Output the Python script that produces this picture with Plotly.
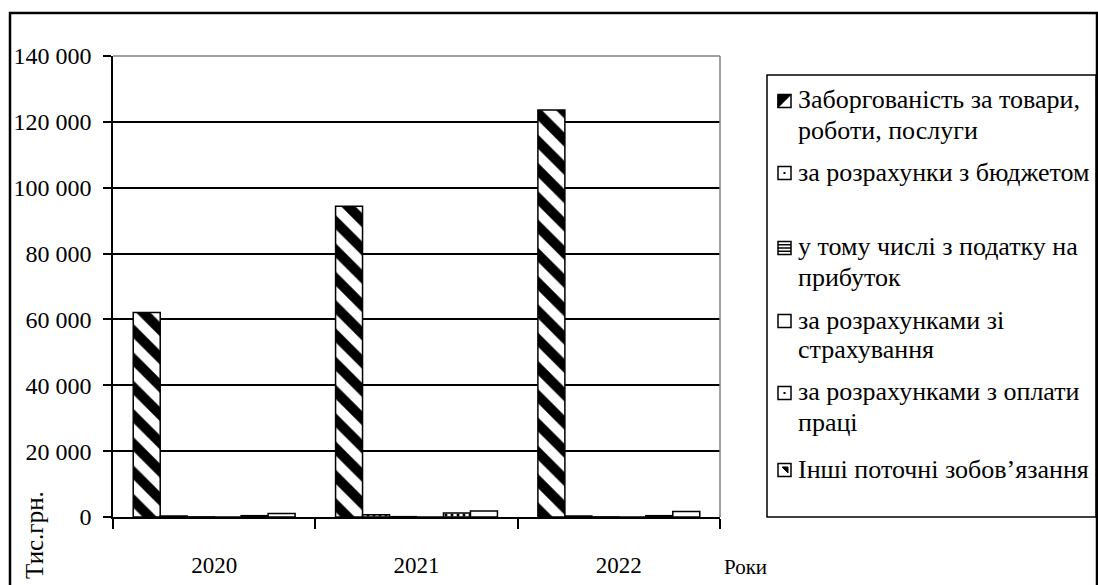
import plotly.graph_objects as go

years = ["2020", "2021", "2022"]
s_trade = [62100, 94400, 123600]
s_budget = [300, 700, 300]
s_profit_tax = [50, 100, 50]
s_insurance = [0, 0, 0]
s_wages = [400, 1200, 400]
s_other = [1100, 1800, 1700]

series_names = [
    "Заборгованість за товари, роботи, послуги",
    "за розрахунки з бюджетом",
    "у тому числі з податку на прибуток",
    "за розрахунками зі страхування",
    "за розрахунками з оплати праці",
    "Інші поточні зобов’язання",
]
series_values = [s_trade, s_budget, s_profit_tax, s_insurance, s_wages, s_other]
patterns = ["\\", ".", "-", "", ".", ""]

legend_lines = [
    ["Заборгованість за товари,", "роботи, послуги"],
    ["за розрахунки з бюджетом"],
    ["у тому числі з податку на", "прибуток"],
    ["за розрахунками зі", "страхування"],
    ["за розрахунками з оплати", "праці"],
    ["Інші поточні зобов’язання"],
]

W, H = 1098, 585
# plot area in window pixels
L, R, T, B = 113, 720, 56, 517
FONT = "Liberation Serif, Times New Roman, serif"


def px(x):
    return (x - L) / (R - L)


def py(y):
    return (B - y) / (B - T)


fig = go.Figure()
for name, vals, pat in zip(series_names, series_values, patterns):
    big = pat == "\\"
    fig.add_trace(go.Bar(
        x=years, y=vals, name=name,
        marker=dict(color="white",
                    line=dict(color="black", width=1.5),
                    pattern=dict(shape=pat, fgcolor="#000000", bgcolor="white", fgopacity=1,
                                 fillmode="replace",
                                 size=20 if big else 6,
                                 solidity=0.5 if big else 0.2)),
        showlegend=False,
    ))

shapes = []
annotations = []

# outer chart border
shapes.append(dict(type="rect", xref="paper", yref="paper",
                   x0=px(10), x1=px(1097), y0=py(13), y1=py(600),
                   line=dict(color="black", width=2.5), fillcolor="rgba(0,0,0,0)", layer="below"))
# plot area gray top / right border
shapes.append(dict(type="line", xref="paper", yref="paper", x0=0, x1=1, y0=1, y1=1,
                   line=dict(color="#808080", width=1.5)))
shapes.append(dict(type="line", xref="paper", yref="paper", x0=1, x1=1, y0=0, y1=1,
                   line=dict(color="#808080", width=1.5)))
# legend box
shapes.append(dict(type="rect", xref="paper", yref="paper",
                   x0=px(767), x1=px(1096), y0=py(75), y1=py(517),
                   line=dict(color="black", width=1.5), fillcolor="rgba(0,0,0,0)"))

line_ys = [[100, 130], [172], [247, 277], [320, 349], [392, 422], [469]]
for i, (lines, ys) in enumerate(zip(legend_lines, line_ys)):
    for txt, yy in zip(lines, ys):
        annotations.append(dict(text=txt, xref="paper", yref="paper",
                                x=px(796), y=py(yy), xanchor="left", yanchor="middle",
                                showarrow=False, font=dict(family=FONT, size=26, color="black")))
    cy = ys[0] + 1
    x0, x1, y0, y1 = px(778), px(791), py(cy + 6.5), py(cy - 6.5)
    shapes.append(dict(type="rect", xref="paper", yref="paper", x0=x0, x1=x1, y0=y0, y1=y1,
                       line=dict(color="black", width=1.5), fillcolor="white"))
    if i == 0:
        shapes.append(dict(type="path", xref="paper", yref="paper",
                           path=f"M {x0} {y0} L {x0} {y1} L {x1} {y1} Z",
                           fillcolor="black", line=dict(color="black", width=1)))
    elif i == 2:
        for k in range(1, 4):
            yk = py(cy - 6.5 + 3.25 * k)
            shapes.append(dict(type="line", xref="paper", yref="paper", x0=x0, x1=x1, y0=yk, y1=yk,
                               line=dict(color="black", width=1.5)))
    elif i in (1, 4):
        shapes.append(dict(type="rect", xref="paper", yref="paper",
                           x0=px(783.5), x1=px(785.5), y0=py(cy + 1), y1=py(cy - 1),
                           fillcolor="black", line=dict(width=0)))
    elif i == 5:
        shapes.append(dict(type="path", xref="paper", yref="paper",
                           path=f"M {px(782)} {py(cy-3)} L {px(788)} {py(cy-3)} L {px(788)} {py(cy+3)} Z",
                           fillcolor="black", line=dict(color="black", width=1)))

annotations.append(dict(text="Роки", xref="paper", yref="paper", x=px(722), y=py(567),
                        xanchor="left", yanchor="middle", showarrow=False,
                        font=dict(family=FONT, size=21, color="black")))
annotations.append(dict(text="Тис.грн.", xref="paper", yref="paper", x=px(34), y=py(535),
                        xanchor="center", yanchor="middle", textangle=-90, showarrow=False,
                        font=dict(family=FONT, size=25, color="black")))

fig.update_layout(
    width=W, height=H,
    margin=dict(l=L, r=W - R, t=T, b=H - B, pad=0, autoexpand=False),
    paper_bgcolor="white", plot_bgcolor="white",
    bargap=0.2, bargroupgap=0,
    barmode="group",
    separators=", ",
    font=dict(family=FONT, color="black"),
    shapes=shapes, annotations=annotations,
    showlegend=False,
)
fig.update_yaxes(range=[0, 140000], dtick=20000, tickformat=",d", automargin=False,
                 showgrid=True, gridcolor="black", gridwidth=1.5,
                 showline=True, linecolor="black", linewidth=1.5,
                 ticks="outside", ticklen=8, tickcolor="black", tickwidth=1.5,
                 ticklabelstandoff=7,
                 tickfont=dict(family=FONT, size=24, color="black"), zeroline=False)
fig.update_xaxes(type="category", showgrid=False, automargin=False,
                 showline=True, linecolor="black", linewidth=1.5,
                 ticks="outside", tickson="boundaries", ticklen=10, tickcolor="black", tickwidth=1.5,
                 ticklabelstandoff=27,
                 tickfont=dict(family=FONT, size=23, color="black"))

page_js = ("document.body.style.margin='0';"
           "document.body.style.overflow='hidden';"
           "document.documentElement.style.overflow='hidden';")
fig.write_html("out.html", post_script=page_js, config={"displayModeBar": False})
